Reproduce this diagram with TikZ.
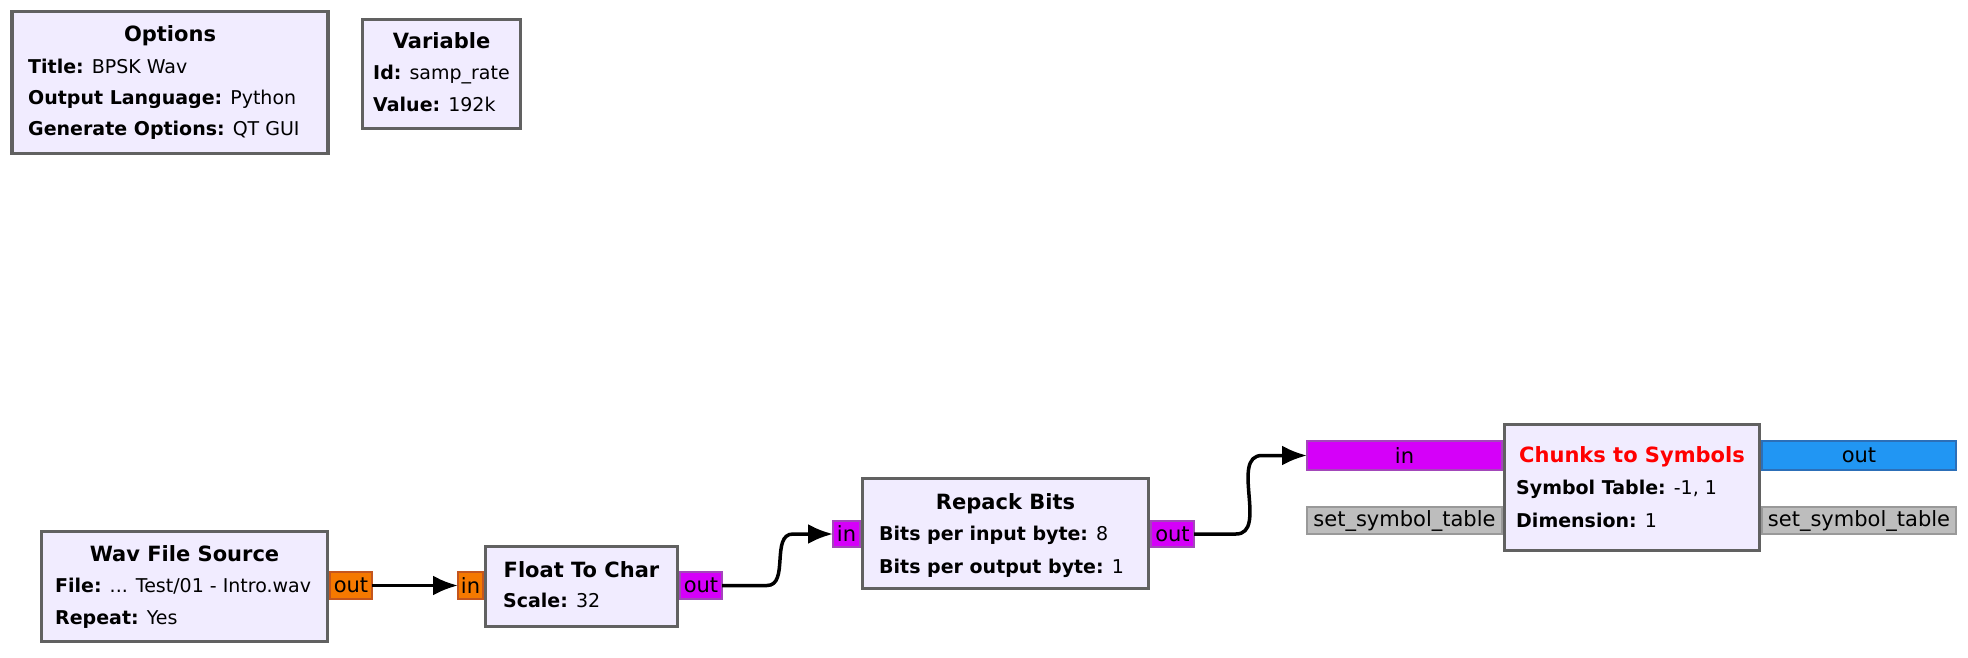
\documentclass[tikz,border=0pt]{standalone}
\usepackage{fontspec}
\setmainfont{DejaVu Sans}
\usepackage{xcolor}
\usetikzlibrary{arrows.meta,positioning,calc}
\definecolor{blockfill}{HTML}{F1ECFF}
\definecolor{blockedge}{HTML}{616161}
\definecolor{bytefill}{HTML}{F57900}
\definecolor{byteedge}{HTML}{C4561E}
\definecolor{charfill}{HTML}{D500F9}
\definecolor{charedge}{HTML}{A347BA}
\definecolor{cplxfill}{HTML}{2196F3}
\definecolor{cplxedge}{HTML}{2C6FB8}
\definecolor{msgfill}{HTML}{BDBDBD}
\definecolor{msgedge}{HTML}{999999}
\newcommand{\titlesize}{\fontsize{21}{21}\selectfont\bfseries}
\newcommand{\paramsize}{\fontsize{19}{19}\selectfont}
\newcommand{\portsize}{\fontsize{21}{21}\selectfont}

\begin{document}
\begin{tikzpicture}[x=1pt, y=-1pt, >={Latex[length=25pt,width=20pt]},
  block/.style={draw=blockedge, line width=3.5pt, fill=blockfill, inner sep=0pt, outer sep=0pt},
  port/.style={line width=2.5pt, inner sep=0pt, outer sep=0pt, font=\portsize},
  floatport/.style={port, draw=byteedge, fill=bytefill},
  byteport/.style={port, draw=charedge, fill=charfill},
  cplxport/.style={port, draw=cplxedge, fill=cplxfill},
  msgport/.style={port, draw=msgedge, fill=msgfill},
  title/.style={anchor=base, inner sep=0pt, font=\titlesize},
  param/.style={anchor=base west, inner sep=0pt, font=\paramsize},
  wire/.style={->, line width=3.5pt}]
  \useasboundingbox (0,0) rectangle (1968,658);

  % Ports (drawn first, the blocks sit on top)
  \node[floatport, minimum width=42, minimum height=27] (wavsrc-out) at (351,585.5) {out};
  \node[floatport, minimum width=25, minimum height=27] (f2c-in) at (470.5,585.5) {in};
  \node[byteport, minimum width=42, minimum height=27] (f2c-out) at (701,585.5) {out};
  \node[byteport, minimum width=27, minimum height=26] (repack-in) at (846.5,534) {in};
  \node[byteport, minimum width=43, minimum height=26] (repack-out) at (1172.5,534) {out};
  \node[byteport, minimum width=195, minimum height=29] (c2s-in) at (1404.5,455.5) {in};
  \node[cplxport, minimum width=194, minimum height=29] (c2s-out) at (1859,455.5) {out};
  \node[msgport, minimum width=195, minimum height=27] (c2s-set-in) at (1404.5,520.5) {set\_symbol\_table};
  \node[msgport, minimum width=194, minimum height=27] (c2s-set-out) at (1859,520.5) {set\_symbol\_table};

  % Blocks
  \node[block, minimum width=316, minimum height=142] (opts) at (170,82.5) {};
  \node[block, minimum width=158, minimum height=109] (var) at (441.5,74) {};
  \node[block, minimum width=286, minimum height=110] (wavsrc) at (184.5,586.5) {};
  \node[block, minimum width=192, minimum height=80] (f2c) at (581.5,586.5) {};
  \node[block, minimum width=286, minimum height=110] (repack) at (1005.5,533.5) {};
  \node[block, minimum width=255, minimum height=126] (c2s) at (1632,487.5) {};

  % Block texts
  \node[title] (opts-t) at (170,42) {Options};
  \node[param] (opts-p1) at (28,74) {\textbf{Title:} BPSK Wav};
  \node[param] (opts-p2) at (28,105) {\textbf{Output Language:} Python};
  \node[param] (opts-p3) at (28,136) {\textbf{Generate Options:} QT GUI};
  \node[title] (var-t) at (441.5,49) {Variable};
  \node[param] (var-p1) at (373,80) {\textbf{Id:} samp\_rate};
  \node[param] (var-p2) at (373,112) {\textbf{Value:} 192k};
  \node[title] (wavsrc-t) at (184.5,561) {Wav File Source};
  \node[param] (wavsrc-p1) at (55,592) {\textbf{File:} {.}{.}{.} Test/01 - Intro.wav};
  \node[param] (wavsrc-p2) at (55,624) {\textbf{Repeat:} Yes};
  \node[title] (f2c-t) at (581.5,577) {Float To Char};
  \node[param] (f2c-p1) at (503,607) {\textbf{Scale:} 32};
  \node[title] (repack-t) at (1005.5,509) {Repack Bits};
  \node[param] (repack-p1) at (879,540) {\textbf{Bits per input byte:} 8};
  \node[param] (repack-p2) at (879,573) {\textbf{Bits per output byte:} 1};
  \node[title, text=red] (c2s-t) at (1632,462) {Chunks to Symbols};
  \node[param] (c2s-p1) at (1516,494) {\textbf{Symbol Table:} -1, 1};
  \node[param] (c2s-p2) at (1516,527) {\textbf{Dimension:} 1};

  % Connections
  \draw[wire] (wavsrc-out.east) -- (f2c-in.west);
  \draw[wire] (f2c-out.east) -- ++(45,0) to[out=0,in=180] ($(repack-in.west)+(-40,0)$) -- (repack-in.west);
  \draw[wire] (repack-out.east) -- ++(42,0) to[out=0,in=180] ($(c2s-in.west)+(-45,0)$) -- (c2s-in.west);
\end{tikzpicture}
\end{document}
